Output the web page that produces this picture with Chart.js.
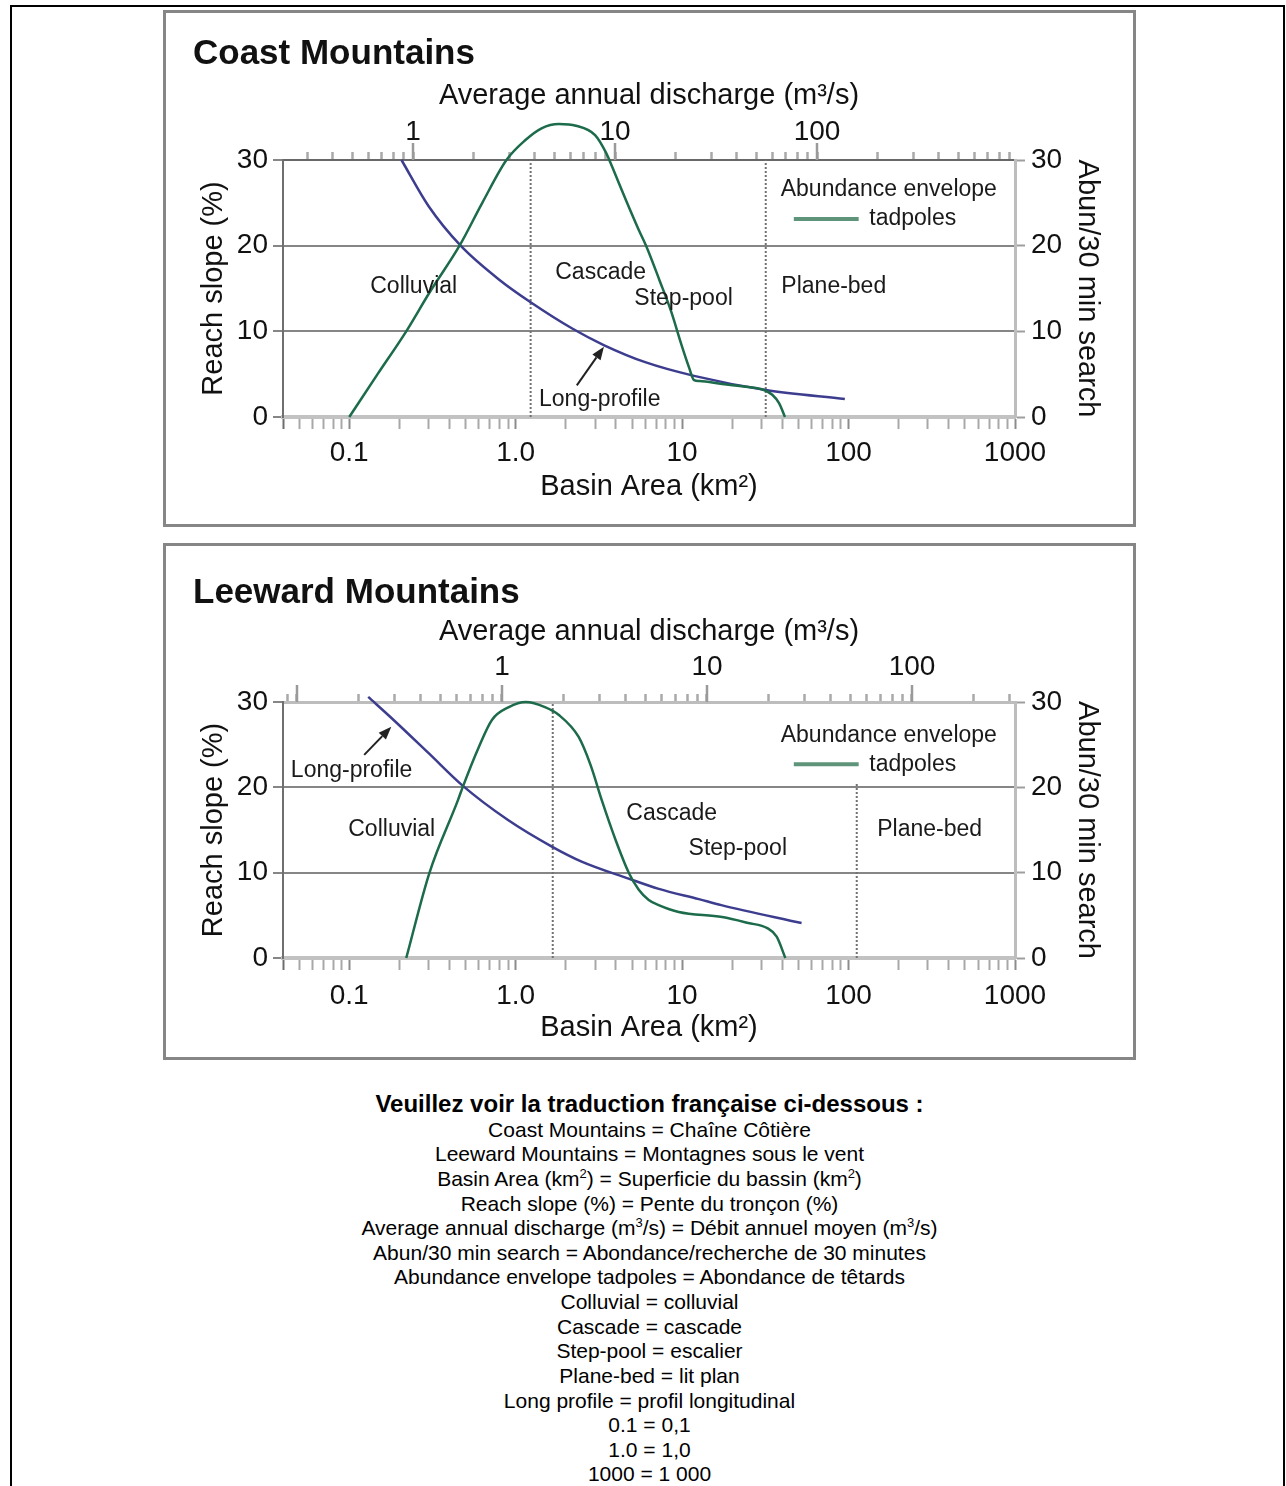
<!DOCTYPE html>
<html>
<head>
<meta charset="utf-8">
<script src="https://cdn.jsdelivr.net/npm/chart.js@4.4.1/dist/chart.umd.min.js"></script>
<style>
html,body{margin:0;padding:0;background:#fff;}
body{width:1286px;height:1486px;position:relative;overflow:hidden;font-family:'Liberation Sans',Arial,Helvetica,sans-serif;}
#frame{position:absolute;left:10px;top:5px;width:1271px;height:1500px;border:2px solid #000;border-bottom:none;}
.panel{position:absolute;left:163px;width:967px;height:511px;border:3px solid #868686;background:#fff;}
.panel canvas{position:absolute;left:0;top:0;}
.ptitle{position:absolute;left:193px;font-weight:bold;font-size:35px;line-height:40px;color:#111;white-space:nowrap;}
#head{position:absolute;left:163px;width:973px;top:1090px;text-align:center;font-weight:bold;font-size:24px;line-height:28px;color:#000;white-space:nowrap;}
#notes{position:absolute;left:163px;width:973px;top:1117.7px;text-align:center;font-size:21px;line-height:24.64px;color:#000;white-space:nowrap;}
#notes div{height:24.64px;}
sup{font-size:13px;line-height:0;vertical-align:0;position:relative;top:-8px;}
</style>
</head>
<body>
<div id="frame"></div>
<div class="panel" style="top:10px;"><canvas id="coast" width="967" height="511"></canvas></div>
<div class="panel" style="top:543px;"><canvas id="leeward" width="967" height="511"></canvas></div>
<div class="ptitle" style="top:32px;">Coast Mountains</div>
<div class="ptitle" style="top:571px;">Leeward Mountains</div>
<div id="head">Veuillez voir la traduction française ci-dessous :</div>
<div id="notes">
<div>Coast Mountains = Chaîne Côtière</div>
<div>Leeward Mountains = Montagnes sous le vent</div>
<div>Basin Area (km<sup>2</sup>) = Superficie du bassin (km<sup>2</sup>)</div>
<div>Reach slope (%) = Pente du tronçon (%)</div>
<div>Average annual discharge (m<sup>3</sup>/s) = Débit annuel moyen (m<sup>3</sup>/s)</div>
<div>Abun/30 min search = Abondance/recherche de 30 minutes</div>
<div>Abundance envelope tadpoles = Abondance de têtards</div>
<div>Colluvial = colluvial</div>
<div>Cascade = cascade</div>
<div>Step-pool = escalier</div>
<div>Plane-bed = lit plan</div>
<div>Long profile = profil longitudinal</div>
<div>0.1 = 0,1</div>
<div>1.0 = 1,0</div>
<div>1000 = 1 000</div>
</div>
<script>
// ---------- axis ranges and tick labels ----------
const AREA_MIN = 0.04, AREA_MAX = 1000;
const areaTickValues = [0.1, 1, 10, 100, 1000];
const areaTickLabels = ['0.1', '1.0', '10', '100', '1000'];
const dischargeTickValues = [1, 10, 100];
const dischargeTickLabels = ['1', '10', '100'];
const valueTicks = [0, 10, 20, 30];
const coastDischargeRange = [0.227, 955];
const leewardDischargeRange = [0.0855, 318];

// ---------- Coast Mountains ----------
const coastProfileArea  = [0.206, 0.30, 0.467, 0.80, 1.23, 2.2, 3.38, 6.0, 11.8, 31.8, 95];
const coastProfileSlope = [30, 24.6, 20, 16.0, 13.4, 10.3, 8.4, 6.4, 4.8, 3.15, 2.1];
const coastTadpoleArea  = [0.1, 0.148, 0.22, 0.303, 0.46, 0.63, 0.88, 1.14, 1.43, 1.82, 2.3, 3.0, 3.5, 3.8, 4.6, 5.5, 6.1, 7.3, 8.6, 9.85, 11.0, 11.8, 12.7, 17.4, 25, 31, 34.8, 38.3, 41.5];
const coastTadpoleAbun  = [0, 5, 10, 14.5, 20, 25, 30, 32.3, 33.7, 34.2, 34.0, 32.9, 30.8, 29.2, 25.3, 21.8, 19.9, 16, 12.3, 8.6, 5.8, 4.3, 4.2, 3.85, 3.5, 3.15, 2.6, 1.6, 0];
const coastBoundaryArea = [1.23, 31.8];
const coastBoundaryTop  = [30, 30];

// ---------- Leeward Mountains ----------
const leewardProfileArea  = [0.13, 0.18, 0.30, 0.48, 0.895, 1.67, 2.49, 4.77, 7.24, 12.6, 17.2, 52.2];
const leewardProfileSlope = [30.6, 28.1, 24.0, 20.2, 16.2, 13.0, 11.3, 9.3, 8.1, 6.9, 6.2, 4.1];
const leewardTadpoleArea  = [0.22, 0.303, 0.45, 0.48, 0.6, 0.72, 0.91, 1.15, 1.5, 1.81, 2.39, 2.82, 3.29, 3.99, 4.78, 5.49, 6.3, 7.23, 9.54, 17.4, 25, 32.5, 37, 41.7];
const leewardTadpoleAbun  = [0, 9.96, 18.5, 20, 24.7, 27.9, 29.4, 30, 29.4, 28.5, 25.9, 22.6, 18.5, 13.8, 10.0, 8.0, 6.8, 6.2, 5.4, 4.8, 4.1, 3.5, 2.5, 0];
const leewardBoundaryArea = [1.67, 112];
const leewardBoundaryTop  = [30, 20.6];

// ---------- styling ----------
const FONT = "'Liberation Sans', Arial, Helvetica, sans-serif";
const TXT = '#111';
const BLUE = '#3d3d8f';
const GREEN = '#1c6b4b';
const LEGEND_GREEN = '#5e9479';

function logTicks(min, max) {
  const out = [];
  for (let e = Math.floor(Math.log10(min)); e <= Math.ceil(Math.log10(max)); e++) {
    for (let k = 1; k <= 9; k++) {
      const v = Number((k * Math.pow(10, e)).toPrecision(6));
      if (v >= min * 0.999 && v <= max * 1.001) out.push(v);
    }
  }
  return out;
}
function labelFor(value, values, labels) {
  const i = values.findIndex(v => Math.abs(v - value) / v < 1e-6);
  return i >= 0 ? labels[i] : '';
}
function zip(xs, ys) { return xs.map((x, i) => ({x: x, y: ys[i]})); }
const font = (size) => ({family: FONT, size: size, lineHeight: 1.2});

const overlay = {
  id: 'overlay',
  beforeDatasetsDraw(chart, args, o) {
    const ctx = chart.ctx, xt = chart.scales.x2;
    ctx.save();
    ctx.strokeStyle = '#9a9a9a';
    ctx.lineWidth = 2.5;
    o.topMajors.forEach(v => {
      const px = Math.round(xt.getPixelForValue(v));
      ctx.beginPath();
      ctx.moveTo(px, xt.bottom);
      ctx.lineTo(px, xt.bottom - 17);
      ctx.stroke();
    });
    ctx.restore();
  },
  afterDatasetsDraw(chart, args, o) {
    const ctx = chart.ctx, xs = chart.scales.x, ys = chart.scales.y;
    ctx.save();
    ctx.strokeStyle = LEGEND_GREEN;
    ctx.lineWidth = 4;
    ctx.beginPath();
    ctx.moveTo(xs.getPixelForValue(o.legend.x1), ys.getPixelForValue(o.legend.y));
    ctx.lineTo(xs.getPixelForValue(o.legend.x2), ys.getPixelForValue(o.legend.y));
    ctx.stroke();
    ctx.fillStyle = '#1a1a1a';
    ctx.font = '23px ' + FONT;
    ctx.textAlign = 'center';
    ctx.textBaseline = 'middle';
    o.labels.forEach(l => ctx.fillText(l.t, xs.getPixelForValue(l.x), ys.getPixelForValue(l.y)));
    const x0 = xs.getPixelForValue(o.arrow.from[0]), y0 = ys.getPixelForValue(o.arrow.from[1]);
    const x1 = xs.getPixelForValue(o.arrow.to[0]), y1 = ys.getPixelForValue(o.arrow.to[1]);
    const a = Math.atan2(y1 - y0, x1 - x0);
    const hl = 13, hw = 5;
    ctx.strokeStyle = '#222';
    ctx.fillStyle = '#222';
    ctx.lineWidth = 2;
    ctx.beginPath();
    ctx.moveTo(x0, y0);
    ctx.lineTo(x1 - hl * Math.cos(a), y1 - hl * Math.sin(a));
    ctx.stroke();
    ctx.beginPath();
    ctx.moveTo(x1, y1);
    ctx.lineTo(x1 - hl * Math.cos(a) + hw * Math.sin(a), y1 - hl * Math.sin(a) - hw * Math.cos(a));
    ctx.lineTo(x1 - hl * Math.cos(a) - hw * Math.sin(a), y1 - hl * Math.sin(a) + hw * Math.cos(a));
    ctx.closePath();
    ctx.fill();
    ctx.restore();
  }
};

function makeChart(id, cfg) {
  const areaTicks = logTicks(AREA_MIN, AREA_MAX);
  const qTicks = logTicks(cfg.qRange[0], cfg.qRange[1]);
  const boundaries = cfg.boundaryArea.map((b, i) => ({
    data: [{x: b, y: 0}, {x: b, y: cfg.boundaryTop[i]}],
    borderColor: '#727272', borderWidth: 2, borderDash: [2, 2],
    yAxisID: 'y', order: 5
  }));
  return new Chart(document.getElementById(id), {
    type: 'line',
    data: {
      datasets: [
        { data: zip(cfg.profileArea, cfg.profileSlope), borderColor: BLUE, borderWidth: 2.5,
          yAxisID: 'y', clip: false, order: 1, cubicInterpolationMode: 'monotone' },
        { data: zip(cfg.tadArea, cfg.tadAbun), borderColor: GREEN, borderWidth: 2.5,
          yAxisID: 'y2', clip: false, order: 0, cubicInterpolationMode: 'monotone' }
      ].concat(boundaries)
    },
    options: {
      responsive: false, animation: false, events: [],
      layout: {padding: 0},
      elements: {point: {radius: 0}, line: {fill: false}},
      plugins: {
        legend: {display: false}, tooltip: {enabled: false}, title: {display: false},
        overlay: cfg.overlay
      },
      scales: {
        x: {
          type: 'logarithmic', position: 'bottom', min: AREA_MIN, max: AREA_MAX,
          afterBuildTicks: s => { s.ticks = areaTicks.map(v => ({value: v})); },
          afterFit: s => { s.height = cfg.bottomH; },
          ticks: { autoSkip: false, maxRotation: 0, minRotation: 0, padding: cfg.bottomTickPad,
                   color: TXT, font: font(28),
                   callback: v => labelFor(v, areaTickValues, areaTickLabels) },
          grid: { drawOnChartArea: false, drawTicks: true, tickLength: 12, tickWidth: 2,
                  tickColor: c => c.index === 0 ? '#6e6e6e' : (labelFor(c.tick.value, areaTickValues, areaTickLabels) ? '#8c8c8c' : '#a8a8a8') },
          border: { display: true, color: '#c2c2c2', width: 4 },
          title: { display: true, text: 'Basin Area (km²)', color: TXT, font: font(29),
                   padding: {top: 0, bottom: cfg.bottomTitlePad} }
        },
        x2: {
          type: 'logarithmic', axis: 'x', position: 'top', min: cfg.qRange[0], max: cfg.qRange[1],
          afterBuildTicks: s => { s.ticks = qTicks.map(v => ({value: v})); },
          afterFit: s => { s.height = cfg.topH; },
          ticks: { autoSkip: false, maxRotation: 0, minRotation: 0, padding: cfg.topTickPad,
                   color: TXT, font: font(28),
                   callback: v => labelFor(v, dischargeTickValues, dischargeTickLabels) },
          grid: { drawOnChartArea: false, drawTicks: true, tickLength: 8, tickWidth: 2.5, tickColor: '#a9a9a9' },
          border: { display: true, color: cfg.topBorder, width: cfg.topBorderWidth },
          title: { display: true, text: 'Average annual discharge (m³/s)', color: TXT, font: font(29),
                   padding: {top: cfg.topTitlePad, bottom: 0} }
        },
        y: {
          type: 'linear', position: 'left', min: 0, max: 30,
          afterBuildTicks: s => { s.ticks = valueTicks.map(v => ({value: v})); },
          afterFit: s => { s.width = 117; },
          ticks: { padding: 5, color: TXT, font: font(28), callback: v => String(v) },
          grid: { drawOnChartArea: true, drawTicks: true, tickLength: 10, lineWidth: 2,
                  color: c => (c.tick && (c.tick.value === 0 || c.tick.value === 30)) ? 'rgba(0,0,0,0)' : '#868686',
                  tickColor: '#868686', tickWidth: 2 },
          border: { display: true, color: '#6f6f6f', width: 2 },
          title: { display: true, text: 'Reach slope (%)', color: TXT, font: font(29),
                   padding: {top: 30.6, bottom: 0} }
        },
        y2: {
          type: 'linear', position: 'right', min: 0, max: 30,
          afterBuildTicks: s => { s.ticks = valueTicks.map(v => ({value: v})); },
          afterFit: s => { s.width = 118; },
          ticks: { padding: 6, color: TXT, font: font(28), callback: v => String(v) },
          grid: { drawOnChartArea: false, drawTicks: true, tickLength: 10, tickColor: '#9e9e9e', tickWidth: 2 },
          border: { display: true, color: '#bdbdbd', width: 3 },
          title: { display: true, text: 'Abun/30 min search', color: TXT, font: font(29),
                   padding: {top: 28.6, bottom: 0} }
        }
      }
    },
    plugins: [overlay]
  });
}

makeChart('coast', {
  profileArea: coastProfileArea, profileSlope: coastProfileSlope,
  tadArea: coastTadpoleArea, tadAbun: coastTadpoleAbun,
  boundaryArea: coastBoundaryArea, boundaryTop: coastBoundaryTop,
  qRange: coastDischargeRange,
  topH: 147, bottomH: 107, topTickPad: 3.2, topTitlePad: 65.6, bottomTickPad: 7.2, bottomTitlePad: 19.6,
  topBorder: '#686868', topBorderWidth: 2,
  overlay: {
    topMajors: [1, 10, 100],
    labels: [
      {t: 'Colluvial', x: 0.244, y: 15.2},
      {t: 'Cascade', x: 3.24, y: 16.8},
      {t: 'Step-pool', x: 10.2, y: 13.8},
      {t: 'Plane-bed', x: 81.5, y: 15.2},
      {t: 'Long-profile', x: 3.2, y: 2.0},
      {t: 'Abundance envelope', x: 174.5, y: 26.5},
      {t: 'tadpoles', x: 243, y: 23.1}
    ],
    legend: {x1: 46.9, x2: 115, y: 23.1},
    arrow: {from: [2.33, 3.7], to: [3.39, 8.2]}
  }
});

makeChart('leeward', {
  profileArea: leewardProfileArea, profileSlope: leewardProfileSlope,
  tadArea: leewardTadpoleArea, tadAbun: leewardTadpoleAbun,
  boundaryArea: leewardBoundaryArea, boundaryTop: leewardBoundaryTop,
  qRange: leewardDischargeRange,
  topH: 156, bottomH: 99, topTickPad: 10.2, topTitlePad: 68.6, bottomTickPad: 9.2, bottomTitlePad: 11.6,
  topBorder: '#bdbdbd', topBorderWidth: 3,
  overlay: {
    topMajors: [0.1, 1, 10, 100],
    labels: [
      {t: 'Long-profile', x: 0.1033, y: 21.9},
      {t: 'Colluvial', x: 0.18, y: 15.0},
      {t: 'Cascade', x: 8.66, y: 16.9},
      {t: 'Step-pool', x: 21.6, y: 12.8},
      {t: 'Plane-bed', x: 307, y: 15.0},
      {t: 'Abundance envelope', x: 174.5, y: 26.1},
      {t: 'tadpoles', x: 243, y: 22.7}
    ],
    legend: {x1: 46.9, x2: 115, y: 22.7},
    arrow: {from: [0.123, 23.8], to: [0.179, 27.1]}
  }
});
</script>
</body>
</html>
